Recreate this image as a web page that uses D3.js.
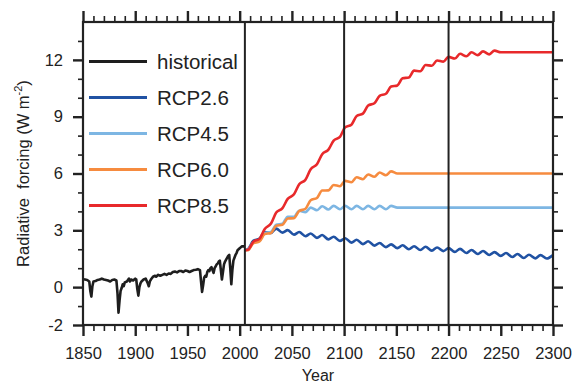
<!DOCTYPE html>
<html>
<head>
<meta charset="utf-8">
<script src="https://cdn.jsdelivr.net/npm/d3@7"></script>
<style>
  body { margin: 0; background: #fff; }
  text { font-family: "Liberation Sans", Arial, sans-serif; fill: #222; }
</style>
</head>
<body>
<div id="chart"></div>
<script>
/* Radiative forcing: historical + RCP scenarios */

const histYears = [1850, 1852, 1854, 1856, 1857, 1858, 1859, 1860, 1862, 1864, 1866, 1868, 1870, 1872, 1874, 1876, 1878, 1880, 1882, 1883, 1884, 1885, 1886, 1887, 1888, 1889, 1890, 1892, 1894, 1895, 1896, 1898, 1900, 1901, 1902, 1903, 1904, 1905, 1906, 1908, 1910, 1912, 1913, 1914, 1915, 1917, 1919, 1920, 1922, 1924, 1926, 1928, 1930, 1932, 1934, 1936, 1938, 1940, 1942, 1944, 1946, 1948, 1950, 1952, 1954, 1956, 1958, 1960, 1962, 1963, 1964, 1965, 1966, 1967, 1968, 1969, 1970, 1971, 1972, 1973, 1974, 1975, 1976, 1977, 1978, 1979, 1980, 1981, 1982, 1983, 1984, 1985, 1986, 1987, 1988, 1989, 1990, 1991, 1992, 1993, 1994, 1995, 1996, 1997, 1998, 1999, 2000, 2001, 2002, 2003, 2004, 2005];
const histValues = [0.42, 0.40, 0.38, 0.30, -0.20, -0.50, 0.05, 0.30, 0.32, 0.38, 0.40, 0.45, 0.40, 0.38, 0.35, 0.30, 0.38, 0.40, 0.35, -0.30, -1.35, -0.70, -0.20, -0.05, 0.15, 0.05, 0.25, 0.30, 0.45, 0.30, 0.40, 0.35, 0.45, 0.40, -0.10, -0.45, 0.00, 0.20, 0.30, 0.40, 0.45, 0.20, 0.05, 0.30, 0.40, 0.55, 0.60, 0.55, 0.65, 0.60, 0.65, 0.70, 0.65, 0.72, 0.70, 0.80, 0.82, 0.78, 0.85, 0.85, 0.80, 0.88, 0.85, 0.80, 0.85, 0.90, 0.92, 0.95, 0.90, 0.30, -0.25, 0.10, 0.50, 0.60, 0.55, 0.80, 0.90, 0.85, 1.00, 1.05, 0.90, 0.75, 1.00, 1.10, 1.20, 1.25, 1.35, 1.40, 0.90, 0.40, 0.80, 1.20, 1.35, 1.45, 1.55, 1.65, 1.70, 1.00, 0.15, 0.90, 1.40, 1.55, 1.70, 1.80, 1.95, 2.00, 2.05, 2.10, 2.15, 2.15, 2.15, 2.15];

// solar-cycle minima / maxima of the scenario runs
const rcpYears = [2005, 2008, 2013, 2019, 2024, 2030, 2035, 2041, 2046, 2052, 2057, 2063, 2068, 2074, 2079, 2085, 2090, 2096, 2101, 2107, 2112, 2118, 2123, 2129, 2134, 2140, 2145, 2151, 2156, 2162, 2167, 2173, 2178, 2184, 2189, 2195, 2200, 2206, 2211, 2217, 2222, 2228, 2233, 2239, 2244, 2250, 2255, 2261, 2266, 2272, 2277, 2283, 2288, 2294, 2300];

const rcp26 = [1.95, 2.01, 2.44, 2.56, 2.91, 2.86, 3.09, 2.88, 3.01, 2.77, 2.91, 2.69, 2.83, 2.60, 2.75, 2.52, 2.66, 2.44, 2.58, 2.35, 2.50, 2.27, 2.42, 2.19, 2.33, 2.11, 2.26, 2.06, 2.21, 2.00, 2.16, 1.96, 2.13, 1.93, 2.09, 1.90, 2.06, 1.86, 2.02, 1.80, 1.96, 1.75, 1.91, 1.70, 1.85, 1.65, 1.80, 1.59, 1.75, 1.54, 1.71, 1.52, 1.69, 1.51, 1.69];
const rcp45 = [1.95, 1.98, 2.36, 2.46, 2.85, 2.91, 3.29, 3.35, 3.72, 3.72, 4.03, 3.96, 4.20, 4.06, 4.27, 4.10, 4.29, 4.11, 4.29, 4.11, 4.29, 4.11, 4.29, 4.11, 4.29, 4.11, 4.29, 4.20, 4.20, 4.20, 4.20, 4.20, 4.20, 4.20, 4.20, 4.20, 4.20, 4.20, 4.20, 4.20, 4.20, 4.20, 4.20, 4.20, 4.20, 4.20, 4.20, 4.20, 4.20, 4.20, 4.20, 4.20, 4.20, 4.20, 4.20];
const rcp60 = [1.95, 1.95, 2.31, 2.41, 2.80, 2.86, 3.24, 3.29, 3.62, 3.64, 4.02, 4.14, 4.59, 4.71, 5.10, 5.11, 5.39, 5.33, 5.61, 5.54, 5.80, 5.70, 5.95, 5.83, 6.05, 5.91, 6.11, 6.00, 6.00, 6.00, 6.00, 6.00, 6.00, 6.00, 6.00, 6.00, 6.00, 6.00, 6.00, 6.00, 6.00, 6.00, 6.00, 6.00, 6.00, 6.00, 6.00, 6.00, 6.00, 6.00, 6.00, 6.00, 6.00, 6.00, 6.00];
const rcp85 = [1.95, 1.98, 2.39, 2.55, 3.07, 3.36, 3.94, 4.17, 4.66, 4.90, 5.43, 5.67, 6.23, 6.49, 7.02, 7.26, 7.74, 7.93, 8.44, 8.58, 9.04, 9.16, 9.59, 9.71, 10.10, 10.21, 10.59, 10.65, 11.03, 11.07, 11.43, 11.40, 11.73, 11.69, 11.97, 11.91, 12.16, 12.07, 12.32, 12.19, 12.40, 12.25, 12.45, 12.29, 12.49, 12.40, 12.40, 12.40, 12.40, 12.40, 12.40, 12.40, 12.40, 12.40, 12.40];

const seriesNames = ["historical", "RCP2.6", "RCP4.5", "RCP6.0", "RCP8.5"];
const seriesColors = ["#1e1e1e", "#2052a3", "#7db6e3", "#f68b3f", "#e8292b"];

const xMajor = [1850, 1900, 1950, 2000, 2050, 2100, 2150, 2200, 2250, 2300];
const yMajor = [-2, 0, 3, 6, 9, 12];
const markerYears = [2005, 2100, 2200];

const width = 574,
    height = 385,
    margin = ({ top: 22, right: 21, bottom: 60, left: 83 });

const svg = d3.select("#chart")
    .append("svg")
    .attr("width", width)
    .attr("height", height)
    .attr("viewBox", [0, 0, width, height]);

let x = d3.scaleLinear()
    .domain([1850, 2300])
    .range([margin.left, width - margin.right]);

let y = d3.scaleLinear()
    .domain([-2, 14])
    .range([height - margin.bottom, margin.top]);

/* minor ticks: every 10 years / every 1 W m-2 */
let xMinor = d3.range(1850, 2301, 10).filter(d => !xMajor.includes(d));
let yMinor = d3.range(-2, 15, 1).filter(d => !yMajor.includes(d) && d !== 14);

function styleAxis(g, w) {
    g.select(".domain").remove();
    g.selectAll(".tick line").attr("stroke", "#222").attr("stroke-width", w);
}

/* bottom */
svg.append("g")
    .attr("transform", `translate(0,${height - margin.bottom})`)
    .call(d3.axisBottom(x).tickValues(xMinor).tickSize(6).tickFormat(""))
    .call(g => styleAxis(g, 1.6));
svg.append("g")
    .attr("transform", `translate(0,${height - margin.bottom})`)
    .call(d3.axisBottom(x).tickValues(xMajor).tickSize(11).tickPadding(11).tickFormat(d => d))
    .call(g => styleAxis(g, 2.4))
    .call(g => g.selectAll("text").attr("font-size", 16.5).attr("fill", "#222"));

/* top */
svg.append("g")
    .attr("transform", `translate(0,${margin.top})`)
    .call(d3.axisTop(x).tickValues(xMinor).tickSize(6).tickFormat(""))
    .call(g => styleAxis(g, 1.6));
svg.append("g")
    .attr("transform", `translate(0,${margin.top})`)
    .call(d3.axisTop(x).tickValues(xMajor).tickSize(11).tickFormat(""))
    .call(g => styleAxis(g, 2.4));

/* left */
svg.append("g")
    .attr("transform", `translate(${margin.left},0)`)
    .call(d3.axisLeft(y).tickValues(yMinor).tickSize(5).tickFormat(""))
    .call(g => styleAxis(g, 1.6));
svg.append("g")
    .attr("transform", `translate(${margin.left},0)`)
    .call(d3.axisLeft(y).tickValues(yMajor).tickSize(10).tickPadding(10).tickFormat(d => String(d)))
    .call(g => styleAxis(g, 2.4))
    .call(g => g.selectAll("text").attr("font-size", 16.5).attr("fill", "#222"));

/* right */
svg.append("g")
    .attr("transform", `translate(${width - margin.right},0)`)
    .call(d3.axisRight(y).tickValues(yMinor).tickSize(5).tickFormat(""))
    .call(g => styleAxis(g, 1.6));
svg.append("g")
    .attr("transform", `translate(${width - margin.right},0)`)
    .call(d3.axisRight(y).tickValues(yMajor).tickSize(10).tickFormat(""))
    .call(g => styleAxis(g, 2.4));

/* lines */
let line = d3.line()
    .x(d => x(d[0]))
    .y(d => y(d[1]))
    .curve(d3.curveMonotoneX);

let allSeries = [
    d3.zip(histYears, histValues),
    d3.zip(rcpYears, rcp26),
    d3.zip(rcpYears, rcp45),
    d3.zip(rcpYears, rcp60),
    d3.zip(rcpYears, rcp85)
];

svg.append("path")
    .datum(allSeries[0])
    .attr("d", d3.line().x(d => x(d[0])).y(d => y(d[1])).curve(d3.curveLinear))
    .attr("fill", "none")
    .attr("stroke", seriesColors[0])
    .attr("stroke-width", 2.6)
    .attr("stroke-linejoin", "round");

for (let i = 1; i < allSeries.length; i++) {
    svg.append("path")
        .datum(allSeries[i])
        .attr("d", line)
        .attr("fill", "none")
        .attr("stroke", seriesColors[i])
        .attr("stroke-width", 2.6)
        .attr("stroke-linejoin", "round");
}

/* vertical markers */
svg.selectAll(".marker")
    .data(markerYears)
    .join("line")
    .attr("class", "marker")
    .attr("x1", d => x(d))
    .attr("x2", d => x(d))
    .attr("y1", margin.top)
    .attr("y2", height - margin.bottom)
    .attr("stroke", "#222")
    .attr("stroke-width", 2);

/* frame */
svg.append("rect")
    .attr("x", margin.left)
    .attr("y", margin.top)
    .attr("width", width - margin.left - margin.right)
    .attr("height", height - margin.top - margin.bottom)
    .attr("fill", "none")
    .attr("stroke", "#222")
    .attr("stroke-width", 2.2);

/* legend */
let legend = svg.append("g");
seriesNames.forEach((name, i) => {
    let ly = 61.5 + i * 36;
    legend.append("line")
        .attr("x1", 89).attr("x2", 147)
        .attr("y1", ly).attr("y2", ly)
        .attr("stroke", seriesColors[i])
        .attr("stroke-width", 3.2);
    legend.append("text")
        .attr("x", 157)
        .attr("y", ly + 7.5)
        .attr("font-size", 20.5)
        .text(name);
});

/* axis titles */
svg.append("text")
    .attr("text-anchor", "middle")
    .attr("x", (margin.left + width - margin.right) / 2)
    .attr("y", 381)
    .attr("font-size", 16)
    .text("Year");

let yl = svg.append("text")
    .attr("text-anchor", "middle")
    .attr("transform", `translate(29,${(margin.top + height - margin.bottom) / 2}) rotate(-90)`)
    .attr("font-size", 16.5)
    .style("white-space", "pre");
yl.append("tspan").text("Radiative  forcing (W m");
yl.append("tspan").attr("font-size", 11).attr("dy", -7).text("-2");
yl.append("tspan").attr("dy", 7).text(")");
</script>
</body>
</html>
